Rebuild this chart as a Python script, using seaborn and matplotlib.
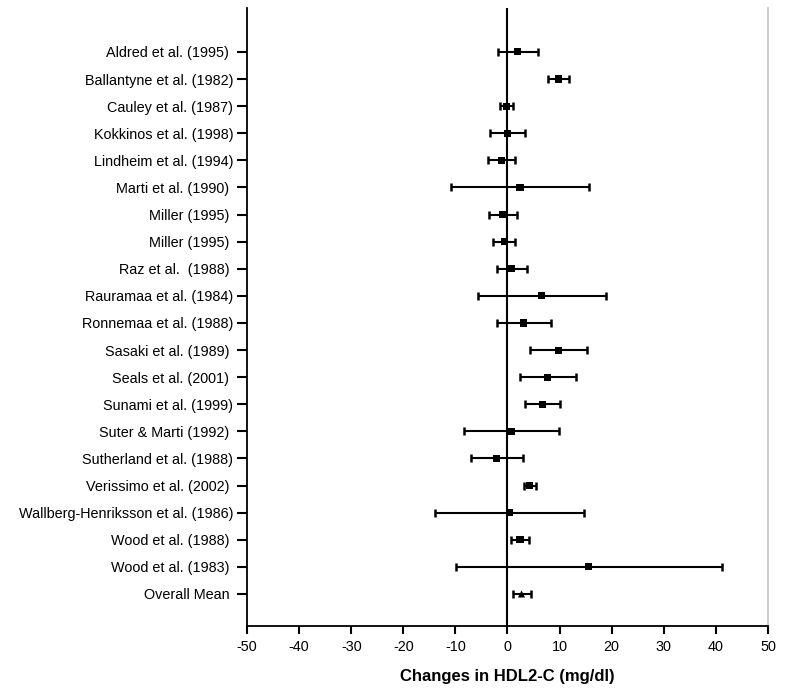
import matplotlib
matplotlib.use('Agg')
import matplotlib.pyplot as plt
import seaborn as sns
import pandas as pd

# study labels, top to bottom
studies = [
    "Aldred et al. (1995) ", "Ballantyne et al. (1982)", "Cauley et al. (1987)",
    "Kokkinos et al. (1998)", "Lindheim et al. (1994)", "Marti et al. (1990) ",
    "Miller (1995) ", "Miller (1995) ", "Raz et al.  (1988) ",
    "Rauramaa et al. (1984)", "Ronnemaa et al. (1988)", "Sasaki et al. (1989) ",
    "Seals et al. (2001) ", "Sunami et al. (1999)", "Suter & Marti (1992) ",
    "Sutherland et al. (1988)", "Verissimo et al. (2002) ",
    "Wallberg-Henriksson et al. (1986)", "Wood et al. (1988) ",
    "Wood et al. (1983) ", "Overall Mean ",
]
# effect size (mg/dl) and 95% CI
mean = [2.0, 9.8, -0.25, 0.0, -1.2, 2.4, -0.9, -0.6, 0.8, 6.6, 3.1,
        9.8, 7.75, 6.65, 0.8, -2.1, 4.25, 0.4, 2.4, 15.6, 2.7]
lower = [-1.85, 7.75, -1.5, -3.3, -3.8, -10.9, -3.5, -2.8, -2.1, -5.6, -2.1,
         4.4, 2.5, 3.3, -8.4, -7.0, 3.1, -13.9, 0.7, -9.8, 1.0]
upper = [5.8, 11.8, 1.15, 3.4, 1.5, 15.7, 1.85, 1.5, 3.8, 18.9, 8.4,
         15.3, 13.1, 10.0, 9.9, 2.9, 5.4, 14.7, 4.1, 41.1, 4.6]
kind = ["study"] * 20 + ["overall"]

df = pd.DataFrame({"study": studies, "mean": mean, "lower": lower,
                   "upper": upper, "kind": kind})
df["pos"] = range(len(df))

sns.set_style("ticks")
plt.rcParams['font.family'] = ['Liberation Sans', 'DejaVu Sans']
plt.rcParams['axes.unicode_minus'] = False
for key in ['text.color', 'axes.labelcolor', 'xtick.color', 'ytick.color']:
    plt.rcParams[key] = 'black'

fig = plt.figure(figsize=(7.88, 6.98), dpi=100)
ax = fig.add_axes([0.3135, 0.1032, 0.661, 0.8853])

# zero line
ax.axvline(0, color='black', lw=1.5, zorder=1)

# confidence intervals
ax.errorbar(df["mean"], df["pos"],
            xerr=[df["mean"] - df["lower"], df["upper"] - df["mean"]],
            fmt='none', ecolor='black', elinewidth=1.5, capsize=3.1,
            capthick=1.8, zorder=2)

sns.scatterplot(data=df, x="mean", y="pos", style="kind",
                markers={"study": "s", "overall": "^"}, color='black',
                s=26, edgecolor='black', linewidth=0, legend=False, ax=ax,
                zorder=3)

ax.set_xlim(-50, 50)
ax.set_ylim(21.18, -1.62)
ax.set_xticks(range(-50, 51, 10))
ax.set_yticks(df["pos"])
ax.set_yticklabels(df["study"])
ax.set_ylabel("")
ax.set_xlabel("Changes in HDL2-C (mg/dl)", fontsize=12, fontweight='bold',
              labelpad=11)

ax.tick_params(axis='y', length=7, width=1.5, labelsize=10.4, pad=3)
ax.tick_params(axis='x', length=6, width=1.5, labelsize=10.4, pad=4)

for side in ["left", "bottom"]:
    ax.spines[side].set_linewidth(1.3)
    ax.spines[side].set_color('black')
ax.spines["top"].set_visible(False)
ax.spines["right"].set_color('#c8c8c8')
ax.spines["right"].set_linewidth(1.3)

fig.savefig("out.png", dpi=100)
